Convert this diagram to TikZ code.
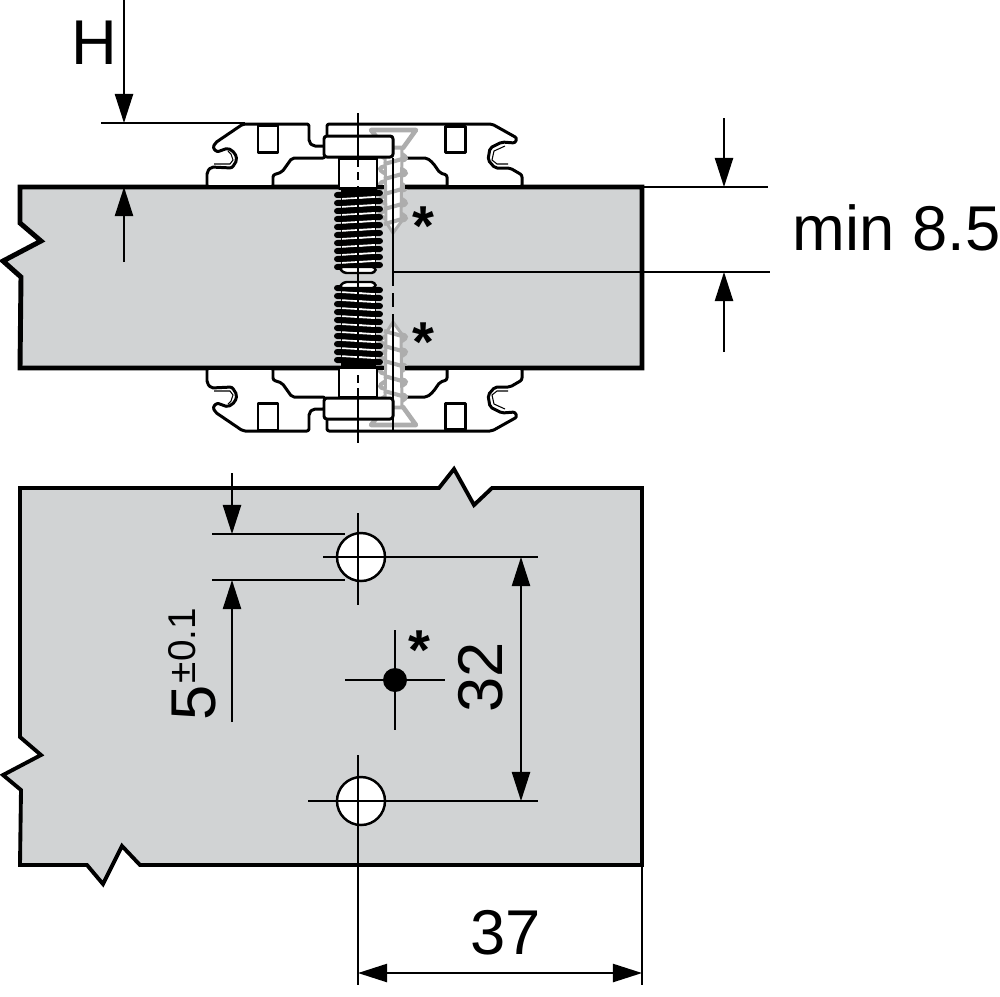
\documentclass[tikz,border=0pt]{standalone}
\usepackage{fontspec}
\setmainfont{Liberation Sans}
\usetikzlibrary{arrows.meta}

\definecolor{panelgray}{HTML}{D1D3D4}
\definecolor{screwgray}{gray}{0.68}

\tikzset{
  dimline/.style={line width=.5pt},
  dimarrow/.style={dimline,-{Triangle[length=8.3pt,width=5.2pt]}},
  dimboth/.style={dimline,{Triangle[length=8.3pt,width=5.2pt]}-{Triangle[length=8.3pt,width=5.2pt]}},
  panelA/.style={fill=panelgray,draw=black,line width=1.4pt,line join=miter},
  panelB/.style={fill=panelgray,draw=black,line width=1.1pt,line join=miter},
  fitting/.style={fill=white,draw=black,line width=.85pt,line join=round},
  woodscrew/.style={draw=screwgray,line width=.85pt,fill=white},
  dimtext/.style={font=\fontsize{18}{20}\selectfont,inner sep=0pt},
  startext/.style={font=\fontsize{16}{20}\selectfont\bfseries,inner sep=0pt},
}

% one half of the mounting plate with its bolt and wood screw
\newcommand{\platehalf}{
% left part
\filldraw[fitting,rounded corners=.6pt] (207,187) -- (207,172) -- (211,167) -- (232,168) -- (237,160) -- (235,153)
  -- (228,148) -- (217,152) -- (213,148) -- (215,143) -- (243,124) -- (309,124) -- (309,142)
  -- (313,146) -- (325,146) -- (325,158) -- (292,158) -- (282,172) -- (273,175) -- (273,187) -- cycle;
\draw[line width=.3pt] (214,164) -- (230,164) -- (233,160) -- (231,154) -- (228,151);
\filldraw[fitting] (258,125) rectangle (278,152);
% right part
\filldraw[fitting,rounded corners=.6pt] (327,135) -- (327,124) -- (492,124) -- (517,138) -- (515,143) -- (502,142)
  -- (490,148) -- (488,160) -- (495,168) -- (510,168) -- (522,175) -- (522,187) -- (447,187)
  -- (447,175) -- (440,173) -- (433,163) -- (427,158) -- (407,158);
\draw[line width=.3pt] (505,146) -- (494,151) -- (492,160) -- (497,164) -- (508,164);
\filldraw[fitting] (445,126) rectangle (465,152);
% wood screw
\filldraw[woodscrew,line width=1.3pt,line join=round] (371,130) -- (416,130) -- (403,148) -- (385,148) -- cycle;
\foreach \ypos in {152,167,...,212}
  \draw[draw=screwgray,line width=1.15pt,fill=white,rotate around={-10:(393,\ypos+4)}] (393,\ypos+4) ellipse (13 and 4.5);
\filldraw[woodscrew] (385,148) -- (402,148) -- (401,222) -- (393,233) -- (386,222) -- cycle;
\foreach \ypos in {159,174,...,219}
  \draw[draw=screwgray,line width=1.15pt] (384,\ypos+5) .. controls (392,\ypos+3) and (398,\ypos+1) .. (406,\ypos-1);
% shank and head
\filldraw[fitting] (339,158) rectangle (377,188);
\filldraw[fitting,rounded corners=.8pt] (324,136) rectangle (393,157);
% thread
\fill[black] (341,189) rectangle (376,271);
\foreach \ypos in {194,202,...,266}{
  \draw[line width=1.7pt,line cap=round] (337,\ypos+1) -- (380,\ypos-1);
  \draw[white,line width=.55pt] (342,\ypos+5) -- (375,\ypos+3);
}
\filldraw[fitting,line width=.7pt,rounded corners=1pt] (339,267) -- (376,267) -- (375,273) -- (343,273) -- cycle;
}

\begin{document}
\begin{tikzpicture}[x=.01cm,y=-.01cm]
\useasboundingbox (0,0) rectangle (1000,996);

% upper panel
\filldraw[panelA] (20,187) -- (642,187) -- (642,368) -- (20,368) -- (21,277) -- (3,261) -- (41,241) -- (20,223) -- cycle;

% plate, top and mirrored
\begin{scope}
\platehalf
\end{scope}
\begin{scope}[shift={(0,555)},yscale=-1]
\platehalf
\end{scope}
\draw[line width=1.4pt] (207,187) -- (338,187) (378,187) -- (384,187) (405,187) -- (522,187);
\draw[line width=1.4pt] (207,368) -- (338,368) (378,368) -- (384,368) (405,368) -- (522,368);

% axes
\draw[dimline] (358,113) -- (358,443);
\draw[white,line width=1.5pt] (358,167) -- (358,172) (358,180) -- (358,186) (358,369) -- (358,375) (358,383) -- (358,388);
\draw[dimline] (393,158) -- (393,272);
\draw[dimline,dash pattern=on 4pt off 2pt] (393,272) -- (393,322);
\draw[dimline] (393,322) -- (393,432);

% dimension H
\draw[dimline] (101,123) -- (245,123);
\draw[dimarrow] (124,0) -- (124,123);
\draw[dimarrow] (124,262) -- (124,187);
\node[dimtext] (labelH) at (94,43) {H};

% dimension min 8.5
\draw[dimline] (644,187) -- (768,187);
\draw[dimline] (393,272) -- (770,272);
\draw[dimarrow] (724,118) -- (724,187);
\draw[dimarrow] (724,352) -- (724,272);
\node[dimtext,anchor=base west] (labelmin) at (792,250) {min 8.5};

\node[startext] (starA) at (423,226) {*};
\node[startext] (starB) at (423,342) {*};

% lower panel
\filldraw[panelB] (20,488) -- (439,488) -- (454,469) -- (474,505) -- (492,488) -- (642,488) -- (642,865)
  -- (140,865) -- (122,846) -- (103,884) -- (87,865) -- (20,865) -- (21,790) -- (3,775) -- (41,755) -- (20,737) -- cycle;

% holes
\filldraw[fill=white,draw=black,line width=.7pt] (361,557) circle (24);
\filldraw[fill=white,draw=black,line width=.7pt] (361,801) circle (24);
\fill[black] (395,680) circle (12);
\draw[dimline] (358,513) -- (358,605);
\draw[dimline] (323,557) -- (538,557);
\draw[dimline] (358,755) -- (358,985);
\draw[dimline] (308,801) -- (538,801);
\draw[dimline] (345,680) -- (445,680);
\draw[dimline] (395,630) -- (395,730);
\node[startext] (starC) at (419,650) {*};

% dimension 5
\draw[dimline] (212,534) -- (345,534);
\draw[dimline] (212,580) -- (345,580);
\draw[dimarrow] (232,473) -- (232,534);
\draw[dimarrow] (232,722) -- (232,580);
\node[dimtext,rotate=90,anchor=base west] (labelfive) at (215,721) {5\raisebox{5.6pt}{\fontsize{11}{12}\selectfont\hspace{.6pt}±0.1}};

% dimension 32
\draw[dimboth] (521,557) -- (521,801);
\node[dimtext,rotate=90] (labelthirtytwo) at (481,677) {32};

% dimension 37
\draw[dimline] (642,865) -- (642,985);
\draw[dimboth] (358,973) -- (642,973);
\node[dimtext] (labelthirtyseven) at (506,933) {37};

\end{tikzpicture}
\end{document}
